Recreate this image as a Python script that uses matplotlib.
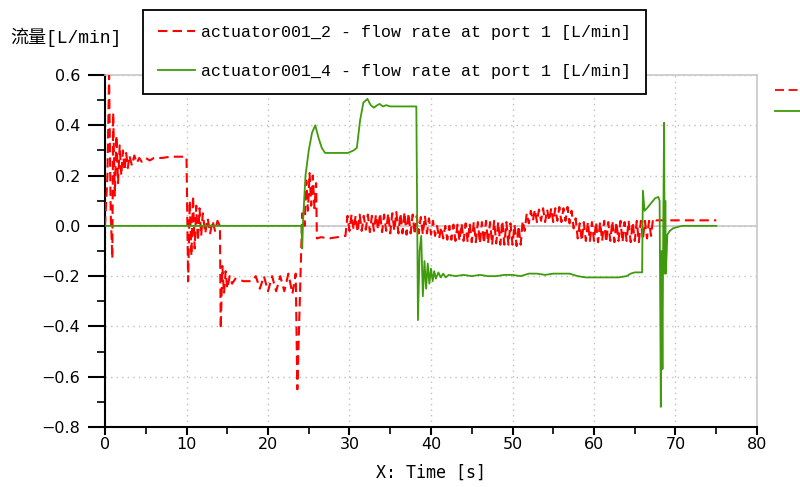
import numpy as np
import matplotlib.pyplot as plt
from matplotlib.ticker import MultipleLocator
from matplotlib.lines import Line2D

# actuator001_2 - flow rate at port 1
red_t = [0.0, 0.3, 0.5, 0.7, 0.9, 1.0, 1.2, 1.4, 1.6, 1.8, 2.0, 2.2, 2.4, 2.6, 2.8, 3.0, 3.3, 3.6, 3.9,
         4.2, 4.5, 5.0, 5.5, 6.0, 7.0, 8.0, 9.0, 10.0,
         10.2, 10.4, 10.6, 10.8, 11.0, 11.2, 11.4, 11.6, 11.8, 12.0, 12.3, 12.6, 12.9, 13.2, 13.5, 13.8, 14.1,
         14.2, 14.4, 14.6, 14.8, 15.0, 15.3, 15.6, 16.0, 17.0, 18.0, 18.5, 19.0, 19.5, 20.0, 20.5, 21.0,
         21.5, 22.0, 22.5, 23.0, 23.4,
         23.6, 23.9, 24.2, 24.5, 24.7, 24.9, 25.1, 25.3, 25.5, 25.7, 25.9,
         26.0, 26.5, 27.5, 28.5, 29.5,
         29.75, 30.0, 30.25, 30.5, 30.75, 31.0, 31.25, 31.5, 31.75, 32.0, 32.25, 32.5, 32.75, 33.0, 33.25,
         33.5, 33.75, 34.0, 34.25, 34.5, 34.75, 35.0, 35.25, 35.5, 35.75, 36.0, 36.25, 36.5, 36.75, 37.0,
         37.25, 37.5, 37.75, 38.0, 38.25, 38.5, 38.75, 39.0, 39.25, 39.5, 39.75, 40.0, 40.25, 40.5, 40.75,
         41.0, 41.25, 41.5, 41.75, 42.0, 42.25, 42.5, 42.75, 43.0, 43.25, 43.5, 43.75, 44.0, 44.25, 44.5,
         44.75, 45.0, 45.25, 45.5, 45.75, 46.0, 46.25, 46.5, 46.75, 47.0, 47.25, 47.5, 47.75, 48.0, 48.25,
         48.5, 48.75, 49.0, 49.25, 49.5, 49.75, 50.0, 50.25, 50.5, 50.75, 51.0, 51.25, 51.5, 51.75, 52.0,
         52.25, 52.5, 52.75, 53.0, 53.25, 53.5, 53.75, 54.0, 54.25, 54.5, 54.75, 55.0, 55.25, 55.5, 55.75,
         56.0, 56.25, 56.5, 56.75, 57.0, 57.25, 57.5, 57.75, 58.0, 58.25, 58.5, 58.75, 59.0, 59.25, 59.5,
         59.75, 60.0, 60.25, 60.5, 60.75, 61.0, 61.25, 61.5, 61.75, 62.0, 62.25, 62.5, 62.75, 63.0, 63.25,
         63.5, 63.75, 64.0, 64.25, 64.5, 64.75, 65.0, 65.25, 65.5, 65.75, 66.0, 66.25, 66.5, 66.75, 67.0,
         67.25, 67.6, 75.0]
red_v = [0.0, 0.2, 0.6, 0.05, -0.13, 0.45, 0.12, 0.36, 0.17, 0.32, 0.2, 0.3, 0.22, 0.29, 0.23, 0.28, 0.24, 0.28, 0.25,
         0.27, 0.255, 0.27, 0.26, 0.27, 0.27, 0.275, 0.275, 0.275,
         -0.22, 0.1, -0.12, 0.12, -0.09, 0.08, -0.06, 0.07, -0.04, 0.05, -0.03, 0.03, -0.03, 0.02, -0.02, 0.02, 0.0,
         -0.41, -0.16, -0.27, -0.18, -0.25, -0.2, -0.23, -0.21, -0.22, -0.22, -0.2, -0.25, -0.2, -0.26, -0.2, -0.26,
         -0.2, -0.26, -0.19, -0.27, -0.19,
         -0.65, -0.3, 0.05, 0.0, 0.18, 0.06, 0.21, 0.08, 0.2, 0.07, 0.17,
         -0.05, -0.045, -0.05, -0.045, -0.04,
         0.04, -0.02, 0.045, -0.015, 0.04, -0.025, 0.045, -0.02, 0.04, -0.015, 0.045, -0.025, 0.04, -0.02, 0.045,
         -0.015, 0.05, -0.025, 0.045, -0.02, 0.05, -0.03, 0.05, -0.02, 0.055, -0.03, 0.05, -0.03, 0.055, -0.035,
         0.05, -0.03, 0.045, -0.035, 0.04, -0.03, 0.035, -0.035, 0.04, -0.03, 0.03, -0.035, 0.02, -0.04, 0.0,
         -0.05, -0.005, -0.05, 0.0, -0.055, 0.0, -0.055, 0.005, -0.06, 0.005, -0.06, 0.01, -0.06, 0.01, -0.065,
         0.01, -0.065, 0.015, -0.065, 0.015, -0.07, 0.015, -0.07, 0.02, -0.07, 0.015, -0.075, 0.02, -0.07, 0.015,
         -0.075, 0.02, -0.075, 0.015, -0.075, 0.01, -0.075, 0.005, -0.08, 0.0, -0.075, 0.02, -0.02, 0.05, 0.01,
         0.06, 0.02, 0.065, 0.015, 0.065, 0.02, 0.07, 0.015, 0.065, 0.02, 0.07, 0.015, 0.07, 0.02, 0.075,
         0.015, 0.07, 0.02, 0.075, 0.01, 0.06, -0.01, 0.03, -0.05, 0.01, -0.06, 0.015, -0.06, 0.015, -0.06,
         0.015, -0.06, 0.015, -0.065, 0.015, -0.06, 0.02, -0.065, 0.015, -0.06, 0.02, -0.065, 0.015, -0.06, 0.02,
         -0.065, 0.015, -0.06, 0.02, -0.065, 0.015, -0.06, 0.02, -0.065, 0.02, -0.055, 0.02, -0.05, 0.02, -0.04,
         0.03, 0.022, 0.022]

# actuator001_4 - flow rate at port 1
green_t = [0.0, 24.1, 24.2, 24.3, 24.6, 25.0, 25.4, 25.8, 26.2, 26.6, 27.0, 28.0, 29.0, 29.8, 30.5, 30.9,
           31.3, 31.7, 32.2, 32.6, 33.0, 33.4, 33.7, 34.1, 34.5, 35.0, 36.0, 37.0, 38.2,
           38.4, 38.6, 38.8, 39.0, 39.2, 39.4, 39.6, 39.8, 40.0, 40.2, 40.4, 40.6, 40.9, 41.2, 41.5, 41.8,
           42.2, 43.0, 44.0, 45.0, 46.0, 47.0, 48.0, 49.0, 50.0, 51.0, 52.0, 53.0, 54.0, 55.0, 56.0, 57.0,
           58.0, 59.0, 60.0, 61.0, 62.0, 63.0, 64.0, 64.5, 65.0, 65.9,
           66.0, 66.2, 66.5, 67.0, 67.5, 67.9, 68.05, 68.2, 68.3, 68.4, 68.5, 68.6, 68.68, 68.75, 68.82,
           69.0, 69.3, 69.7, 70.2, 70.8, 75.0]
green_v = [0.0, 0.0, -0.09, 0.02, 0.2, 0.3, 0.37, 0.40, 0.35, 0.31, 0.29, 0.29, 0.29, 0.29, 0.3, 0.31,
           0.42, 0.49, 0.505, 0.48, 0.47, 0.48, 0.485, 0.475, 0.48, 0.475, 0.475, 0.475, 0.475,
           -0.375, -0.1, -0.04, -0.28, -0.14, -0.25, -0.15, -0.23, -0.17, -0.22, -0.18, -0.21, -0.185, -0.205, -0.19, -0.205,
           -0.195, -0.2, -0.195, -0.2, -0.195, -0.2, -0.2, -0.195, -0.195, -0.2, -0.19, -0.19, -0.195, -0.19, -0.19, -0.19,
           -0.2, -0.205, -0.205, -0.205, -0.205, -0.205, -0.2, -0.19, -0.185, -0.185,
           0.14, 0.06, 0.07, 0.09, 0.11, 0.115, 0.1, -0.72, -0.1, -0.57, 0.0, 0.41, -0.19, 0.1, -0.19,
           -0.035, -0.02, -0.01, -0.005, 0.0, 0.0]

fig = plt.figure(figsize=(8, 4.87), dpi=100)
ax = fig.add_axes([105 / 800, 1 - 427 / 487, 652 / 800, 352 / 487])

ax.axhline(0, color='#c8c8c8', lw=1.2, zorder=1)
red_line, = ax.plot(red_t, red_v, color='#ff0000', lw=1.5, ls=(0, (4.5, 2.5)), zorder=3)
green_line, = ax.plot(green_t, green_v, color='#3f9b0b', lw=1.3, zorder=4)

ax.set_xlim(0, 80)
ax.set_ylim(-0.8, 0.6)
ax.xaxis.set_major_locator(MultipleLocator(10))
ax.xaxis.set_minor_locator(MultipleLocator(5))
ax.yaxis.set_major_locator(MultipleLocator(0.2))
ax.yaxis.set_minor_locator(MultipleLocator(0.1))
ax.grid(True, which='major', color='#c0c0c0', ls=(0, (1, 3)), lw=1.0)

for s in ['top', 'right']:
    ax.spines[s].set_color('#c8c8c8')
    ax.spines[s].set_linewidth(1.2)
for s in ['left', 'bottom']:
    ax.spines[s].set_color('black')
    ax.spines[s].set_linewidth(1.5)

ax.tick_params(axis='y', which='major', direction='out', length=12, width=1.5, pad=6, labelsize=11.5)
ax.tick_params(axis='y', which='minor', direction='out', length=6, width=1.2)
ax.tick_params(axis='x', which='major', direction='out', length=6, width=1.5, pad=1, labelsize=11.5)
ax.tick_params(axis='x', which='minor', direction='out', length=5, width=1.2)
ax.tick_params(top=False, right=False, which='both')

ax.set_xlabel('X: Time [s]', fontsize=12, family='DejaVu Sans Mono', labelpad=9)
fig.text(10 / 800, 1 - 37 / 487, '流量[L/min]', fontsize=13, va='center', ha='left',
         family=['Liberation Mono', 'Noto Sans CJK SC'])

leg = fig.legend([red_line, green_line],
                 ['actuator001_2 - flow rate at port 1 [L/min]',
                  'actuator001_4 - flow rate at port 1 [L/min]'],
                 loc='upper left', bbox_to_anchor=(143 / 800, 1 - 10 / 487),
                 prop={'family': 'Liberation Mono', 'size': 12},
                 handlelength=2.2, handletextpad=0.4, borderpad=0.9, labelspacing=1.45,
                 borderaxespad=0, fancybox=False, framealpha=1, edgecolor='black')
leg.get_frame().set_linewidth(1.3)

# second (clipped) legend at the right edge
fig.add_artist(Line2D([775 / 800, 1.0], [1 - 90 / 487, 1 - 90 / 487], color='#ff0000', lw=1.3,
                      ls=(0, (5, 2.5)), transform=fig.transFigure))
fig.add_artist(Line2D([775 / 800, 1.0], [1 - 111 / 487, 1 - 111 / 487], color='#3f9b0b', lw=1.3,
                      transform=fig.transFigure))

fig.savefig('out.png', dpi=100)
